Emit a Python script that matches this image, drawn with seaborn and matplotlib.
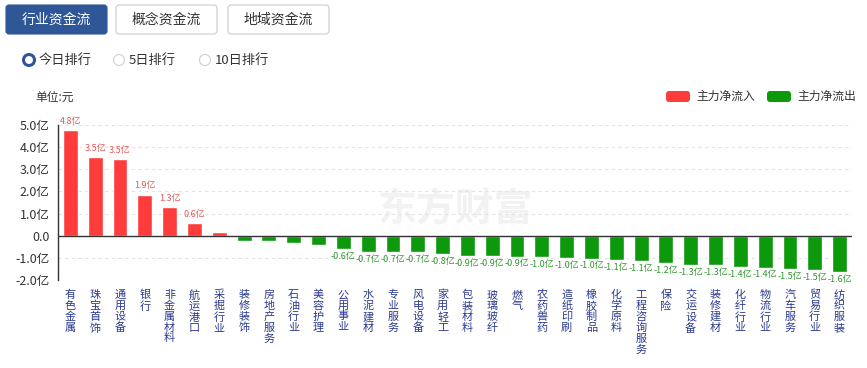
import matplotlib
matplotlib.use('Agg')
import matplotlib.pyplot as plt
import seaborn as sns
import pandas as pd
from matplotlib.patches import FancyBboxPatch, Circle

# data (unit: 亿元)
categories = ['有色金属', '珠宝首饰', '通用设备', '银行', '非金属材料', '航运港口', '采掘行业',
              '装修装饰', '房地产服务', '石油行业', '美容护理', '公用事业', '水泥建材', '专业服务',
              '风电设备', '家用轻工', '包装材料', '玻璃玻纤', '燃气', '农药兽药', '造纸印刷',
              '橡胶制品', '化学原料', '工程咨询服务', '保险', '交运设备', '装修建材', '化纤行业',
              '物流行业', '汽车服务', '贸易行业', '纺织服装']
values = [4.77, 3.54, 3.46, 1.86, 1.30, 0.56, 0.15,
          -0.26, -0.26, -0.33, -0.42, -0.61, -0.74, -0.74,
          -0.74, -0.82, -0.91, -0.91, -0.94, -0.98, -1.02,
          -1.03, -1.09, -1.14, -1.24, -1.32, -1.34, -1.41,
          -1.44, -1.52, -1.54, -1.64]
yticks = [-2, -1, 0, 1, 2, 3, 4, 5]
legend_names = ['主力净流入', '主力净流出']
tabs = ['行业资金流', '概念资金流', '地域资金流']
radios = ['今日排行', '5日排行', '10日排行']

RED = '#ff3c3c'
GREEN = '#0c990c'
NAVY = '#2b3a8f'

sns.set_theme(style='white')
plt.rcParams['font.family'] = ['Noto Sans CJK SC', 'DejaVu Sans']
plt.rcParams['axes.unicode_minus'] = False

df = pd.DataFrame({'行业': categories, '净额': values})
df['方向'] = [legend_names[0] if v >= 0 else legend_names[1] for v in values]

fig = plt.figure(figsize=(8.67, 3.68), dpi=100)
W, H = 867, 368
ax = fig.add_axes([58 / W, 1 - 280 / H, 794 / W, 155 / H])

sns.barplot(data=df, x='行业', y='净额', hue='方向', dodge=False, width=0.6,
            palette={legend_names[0]: RED, legend_names[1]: GREEN}, saturation=1,
            legend=False, ax=ax, zorder=3)

ax.set_xlim(-0.5, len(categories) - 0.5)
ax.set_ylim(-2, 5)
ax.set_xlabel('')
ax.set_ylabel('')

# grid
for t in yticks:
    if t != 0:
        ax.axhline(t, color='#e3e3e3', lw=0.8, ls=(0, (3, 3)), zorder=1)
ax.axhline(0, color='#333333', lw=1.0, zorder=4)

for s in ['top', 'right', 'bottom']:
    ax.spines[s].set_visible(False)
ax.spines['left'].set_color('#333333')
ax.spines['left'].set_linewidth(1.0)

ax.set_yticks(yticks)
ax.set_yticklabels([f'{t:.1f}亿' if t != 0 else '0.0' for t in yticks],
                   fontsize=9, color='#333333')
ax.tick_params(axis='y', length=0, pad=6)
ax.set_xticks(range(len(categories)))
ax.set_xticklabels(['\n'.join(c) for c in categories], fontsize=8, color=NAVY,
                   linespacing=1.1, va='top')
ax.tick_params(axis='x', length=0, pad=7)

# value labels
for i, v in enumerate(values):
    if abs(v) < 0.5:
        continue
    if v > 0:
        ax.annotate(f'{v:.1f}亿', (i, v), xytext=(0, 3), textcoords='offset points',
                    ha='center', va='bottom', fontsize=6.5, color='#e35a5a',
                    annotation_clip=False)
    else:
        ax.annotate(f'{v:.1f}亿', (i, v), xytext=(0, -2), textcoords='offset points',
                    ha='center', va='top', fontsize=6.5, color='#2f962f',
                    annotation_clip=False)

# watermark
ax.text(0.5, 0.45, '东方财富', transform=ax.transAxes, ha='center', va='center',
        fontsize=28, fontweight='bold', color='#f2f2f2', zorder=0)

# page header overlay in pixel coordinates
ui = fig.add_axes([0, 0, 1, 1], zorder=-1)
ui.set_xlim(0, W)
ui.set_ylim(H, 0)
ui.axis('off')

tab_x = [6, 116, 228]
for k, (x0, name) in enumerate(zip(tab_x, tabs)):
    sel = k == 0
    ui.add_patch(FancyBboxPatch((x0, 5), 101, 29, boxstyle='round,pad=0,rounding_size=3',
                                fc='#2f5697' if sel else 'white',
                                ec='#2f5697' if sel else '#cccccc', lw=0.8))
    ui.text(x0 + 50.5, 20, name, ha='center', va='center', fontsize=10,
            color='white' if sel else '#333333')

radio_x = [29, 119, 205]
for k, (cx, name) in enumerate(zip(radio_x, radios)):
    if k == 0:
        ui.add_patch(Circle((cx, 60), 5.5, fc='white', ec='#2f5697', lw=2.2))
    else:
        ui.add_patch(Circle((cx, 60), 5.5, fc='white', ec='#cfcfcf', lw=0.8))
    ui.text(cx + 10, 60, name, ha='left', va='center', fontsize=9.5, color='#333333')

ui.text(35, 97, '单位:元', ha='left', va='center', fontsize=8.5, color='#333333')

for x0, name, c in [(666, legend_names[0], RED), (767, legend_names[1], GREEN)]:
    ui.add_patch(FancyBboxPatch((x0, 91), 24, 11, boxstyle='round,pad=0,rounding_size=3',
                                fc=c, ec='none'))
    ui.text(x0 + 30, 96.5, name, ha='left', va='center', fontsize=8.5, color='#333333')

fig.savefig('out.png', dpi=100)
